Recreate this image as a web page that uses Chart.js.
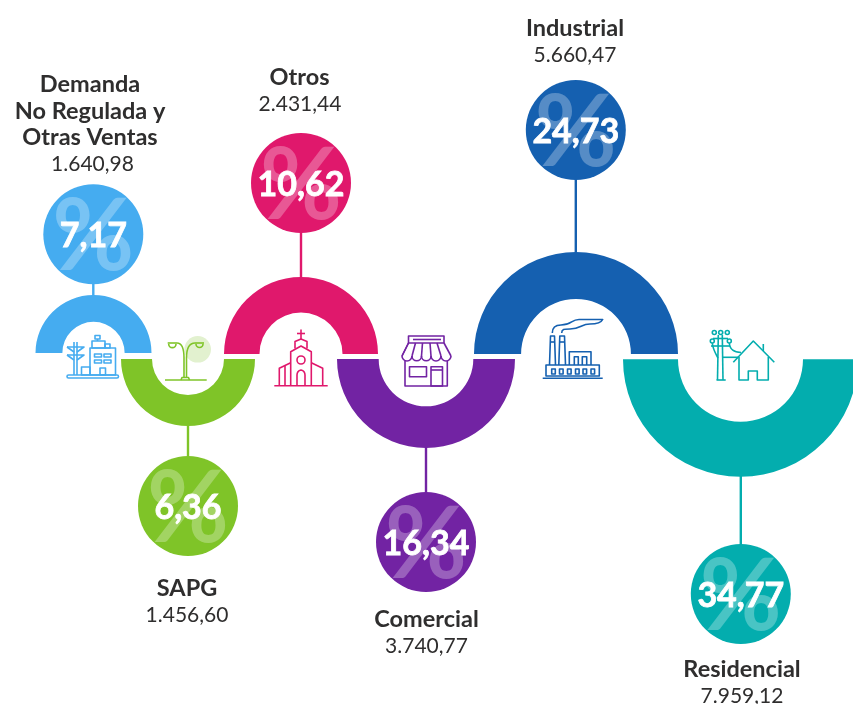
<!DOCTYPE html>
<html>
<head>
<meta charset="utf-8">
<title>Demanda</title>
<script src="https://cdn.jsdelivr.net/npm/chart.js@4/dist/chart.umd.min.js"></script>
<style>
html, body { margin: 0; padding: 0; background: #fff; width: 853px; height: 704px; overflow: hidden; }
#wrap { position: relative; width: 853px; height: 704px; overflow: hidden; }
canvas { position: absolute; display: block; }
</style>
</head>
<body>
<div id="wrap"><canvas id="main" width="853" height="704"></canvas></div>
<script>
// datos
const categories = [['Demanda', 'No Regulada y', 'Otras Ventas'], ['SAPG'], ['Otros'], ['Comercial'], ['Industrial'], ['Residencial']]
const values = [1640.98, 1456.60, 2431.44, 3740.77, 5660.47, 7959.12]
const percents = [7.17, 6.36, 10.62, 16.34, 24.73, 34.77]

// colores
const colors = ['#45acf0', '#7fc428', '#e0186c', '#7223a3', '#1560b0', '#03adae']

// posiciones de cada arco y circulo
const arcX = [93.3, 188, 301, 426, 575.8, 740.8]
const arcOuter = [58.3, 67, 77, 88.8, 101.8, 117.5]
const arcInner = [31.3, 36, 41.5, 47.2, 54.8, 62.5]
const arcUp = [true, false, true, false, true, false]
const circleY = [234.3, 506, 183, 542, 130, 594]
const nameX = [90, 187, 299.5, 426.5, 575, 742]
const valueX = [92.5, 187, 300, 426.5, 575, 742]
const labelY = [92, 596, 85, 627, 36, 677]

const topBase = 353.5
const bottomBase = 359

function fmt(n) {
    let s = n.toFixed(2).replace('.', ',')
    return s.replace(/\B(?=(\d{3})+(?!\d))/, '.')
}

function line(ctx, pts) {
    ctx.beginPath()
    pts.forEach((p, i) => i == 0 ? ctx.moveTo(p[0], p[1]) : ctx.lineTo(p[0], p[1]))
    ctx.stroke()
}

function rect(ctx, x, y, w, h) {
    ctx.beginPath()
    ctx.rect(x, y, w, h)
    ctx.stroke()
}

function circle(ctx, x, y, r) {
    ctx.beginPath()
    ctx.arc(x, y, r, 0, Math.PI * 2)
    ctx.stroke()
}

function iconDemanda(ctx) {
    ctx.beginPath()
    ctx.roundRect(67, 375, 51.5, 3, 1.5)
    ctx.stroke()
    line(ctx, [[74, 342], [74, 375]])
    line(ctx, [[77, 342], [77, 375]])
    line(ctx, [[67, 347], [84, 347], [77, 352]])
    line(ctx, [[74, 352], [67, 347]])
    line(ctx, [[67, 355], [84, 355], [77, 360]])
    line(ctx, [[74, 360], [67, 355]])
    rect(ctx, 90, 348, 25.5, 27)
    rect(ctx, 92, 341, 13, 7)
    rect(ctx, 105, 344, 5, 4)
    rect(ctx, 95, 335.5, 5, 3.5)
    line(ctx, [[97.5, 339], [97.5, 341]])
    rect(ctx, 94.5, 354, 7, 3)
    rect(ctx, 104, 354, 7, 3)
    rect(ctx, 94.5, 360, 7, 3)
    rect(ctx, 104, 360, 7, 3)
    rect(ctx, 100, 368, 5.5, 7)
    rect(ctx, 81.5, 367, 8.5, 8)
}

function iconSapg(ctx) {
    ctx.save()
    ctx.fillStyle = '#e2f1cf'
    ctx.beginPath()
    ctx.arc(197.7, 349.3, 13.3, 0, Math.PI * 2)
    ctx.fill()
    ctx.restore()
    line(ctx, [[165, 380], [206.7, 380]])
    line(ctx, [[184, 378], [184, 358]])
    line(ctx, [[186.5, 378], [186.5, 358]])
    line(ctx, [[181, 380], [182, 377.5], [188.5, 377.5], [189.5, 380]])
    ctx.beginPath()
    ctx.moveTo(184, 358)
    ctx.bezierCurveTo(184, 347, 181, 343, 177, 343)
    ctx.stroke()
    ctx.beginPath()
    ctx.moveTo(186.5, 358)
    ctx.bezierCurveTo(186.5, 347, 190, 343, 195, 343)
    ctx.stroke()
    ;[[167.7, 177], [195, 204]].forEach(p => {
        line(ctx, [[p[0], 343], [p[1], 343]])
        ctx.beginPath()
        ctx.arc((p[0] + p[1]) / 2, 344, (p[1] - p[0]) / 2 - 1, 0, Math.PI)
        ctx.stroke()
    })
}

function iconOtros(ctx) {
    line(ctx, [[274.3, 385.7], [327.7, 385.7]])
    line(ctx, [[301, 329.5], [301, 339]])
    line(ctx, [[297, 333.5], [305, 333.5]])
    line(ctx, [[295, 348.5], [295, 341.5], [301, 339], [307, 341.5], [307, 348.5]])
    line(ctx, [[290.7, 385.7], [290.7, 351.7], [301, 346], [311.3, 351.7], [311.3, 385.7]])
    line(ctx, [[279.3, 385.7], [279.3, 368.3], [290.7, 362.7]])
    line(ctx, [[322.7, 385.7], [322.7, 368.3], [311.3, 362.7]])
    line(ctx, [[285, 385.7], [285, 366]])
    circle(ctx, 301, 360, 4)
    ctx.beginPath()
    ctx.moveTo(297, 385.7)
    ctx.lineTo(297, 375)
    ctx.quadraticCurveTo(297, 371, 301, 370)
    ctx.quadraticCurveTo(305, 371, 305, 375)
    ctx.lineTo(305, 385.7)
    ctx.stroke()
}

function iconComercial(ctx) {
    rect(ctx, 408.5, 336, 35.5, 7)
    line(ctx, [[413, 339.5], [441, 339.5]])
    line(ctx, [[408.5, 343], [402, 356]])
    line(ctx, [[444, 343], [451, 356]])
    // toldo
    const edges = [402, 412, 421.5, 431, 441, 451]
    const tops = [408.5, 415.5, 422.5, 430, 437, 444]
    for (let i = 0; i < 5; i++) {
        ctx.beginPath()
        ctx.moveTo(edges[i], 356)
        ctx.arc((edges[i] + edges[i + 1]) / 2, 356, (edges[i + 1] - edges[i]) / 2, Math.PI, 0, true)
        ctx.stroke()
        line(ctx, [[tops[i + 0], 343], [edges[i], 356]])
    }
    line(ctx, [[405, 361], [405, 386], [447.3, 386], [447.3, 361]])
    rect(ctx, 409.5, 366.7, 17, 10)
    rect(ctx, 431, 366.7, 11.5, 19.3)
    line(ctx, [[431, 370], [442.5, 370]])
}

function iconIndustrial(ctx) {
    line(ctx, [[542.7, 378.3], [602.7, 378.3]])
    rect(ctx, 546, 365, 53.3, 11)
    ;[551.7, 559.5, 567.5, 575.5, 583, 591].forEach(x => rect(ctx, x, 369, 3.6, 5))
    line(ctx, [[549.5, 365], [550.5, 336], [554.5, 336], [555.5, 365]])
    line(ctx, [[558.8, 365], [559.8, 336], [564.5, 336], [565.5, 365]])
    line(ctx, [[550, 342], [555, 342]])
    line(ctx, [[559.5, 342], [565, 342]])
    line(ctx, [[569.3, 365], [569.3, 351.7], [591, 351.7], [591, 365]])
    line(ctx, [[574.3, 365], [574.3, 356.7], [578.3, 356.7], [578.3, 365]])
    line(ctx, [[582.3, 365], [582.3, 356.7], [586.7, 356.7], [586.7, 365]])
    ctx.beginPath()
    ctx.moveTo(552.3, 333)
    ctx.bezierCurveTo(552.3, 327, 556, 325, 561, 325)
    ctx.bezierCurveTo(572, 325, 571, 319.5, 579, 319.5)
    ctx.lineTo(602.7, 319.5)
    ctx.bezierCurveTo(601, 323, 597, 324, 590, 324)
    ctx.bezierCurveTo(581, 324, 581, 329, 570, 329)
    ctx.bezierCurveTo(564, 329, 561.7, 329, 561.7, 333)
    ctx.stroke()
}

function iconResidencial(ctx) {
    line(ctx, [[733.3, 362.3], [753.3, 341], [774.3, 362.3]])
    line(ctx, [[739, 357], [739, 380], [748.3, 380], [748.3, 371], [757.3, 371], [757.3, 380], [768.3, 380], [768.3, 357]])
    line(ctx, [[763.3, 344], [763.3, 351]])
    line(ctx, [[718.3, 335], [717.5, 380]])
    line(ctx, [[722.3, 335], [723, 380]])
    line(ctx, [[716.5, 380], [725.7, 380]])
    line(ctx, [[713, 338.5], [728, 338.5]])
    line(ctx, [[711, 346], [730, 346]])
    line(ctx, [[722, 357.3], [738, 357.3]])
    ;[[714.3, 332.5], [720.7, 332.5], [727.3, 332.5], [712.3, 341], [729.3, 341]].forEach(p => circle(ctx, p[0], p[1], 2))
    ctx.beginPath()
    ctx.moveTo(729.3, 343)
    ctx.bezierCurveTo(730, 350, 734, 352, 741, 352.5)
    ctx.stroke()
    ctx.beginPath()
    ctx.moveTo(712.3, 343)
    ctx.bezierCurveTo(713, 350, 716, 354, 718, 358)
    ctx.stroke()
}

const icons = [iconDemanda, iconSapg, iconOtros, iconComercial, iconIndustrial, iconResidencial]

const overlay = {
    id: 'overlay',
    afterDatasetsDraw(chart) {
        const ctx = chart.ctx
        const sx = chart.scales.x
        const sy = chart.scales.y
        ctx.save()
        ctx.textAlign = 'center'
        ctx.textBaseline = 'alphabetic'
        categories.forEach((lines, i) => {
            const cx = sx.getPixelForValue(arcX[i])
            const cy = sy.getPixelForValue(circleY[i])
            // % de fondo
            ctx.fillStyle = 'rgba(255,255,255,0.28)'
            ctx.font = 'bold 100px Lato'
            ctx.fillText('%', cx, cy + 36)
            // porcentaje
            ctx.fillStyle = '#fff'
            ctx.strokeStyle = '#fff'
            ctx.lineWidth = 0.8
            ctx.font = 'bold 34px Lato'
            ctx.fillText(percents[i].toFixed(2).replace('.', ','), cx, cy + 12.5)
            ctx.strokeText(percents[i].toFixed(2).replace('.', ','), cx, cy + 12.5)
            // nombre y valor
            ctx.fillStyle = '#2f2e2e'
            ctx.font = 'bold 23.5px Lato'
            lines.forEach((t, j) => ctx.fillText(t, nameX[i], labelY[i] + j * 26.7))
            ctx.font = '21px Lato'
            ctx.fillText(fmt(values[i]), valueX[i], labelY[i] + lines.length * 26.3)
            // icono
            ctx.save()
            ctx.strokeStyle = colors[i]
            ctx.lineWidth = 1.6
            ctx.lineJoin = 'round'
            icons[i](ctx)
            ctx.restore()
        })
        ctx.restore()
    }
}

const bubbleData = percents.map((p, i) => ({ x: arcX[i], y: circleY[i], r: 50 }))
const stems = percents.map((p, i) => ({
    type: 'line',
    data: [{ x: arcX[i], y: circleY[i] }, { x: arcX[i], y: arcUp[i] ? topBase - arcOuter[i] + 4 : bottomBase + arcOuter[i] - 4 }],
    borderColor: colors[i],
    borderWidth: 2.4,
    pointRadius: 0,
    order: 2
}))

new Chart(document.getElementById('main'), {
    data: {
        datasets: [{
            type: 'bubble',
            data: bubbleData,
            backgroundColor: colors,
            borderWidth: 0,
            order: 1
        }].concat(stems)
    },
    options: {
        responsive: false,
        animation: false,
        events: [],
        layout: { padding: 0, autoPadding: false },
        plugins: { legend: { display: false }, tooltip: { enabled: false } },
        scales: {
            x: { type: 'linear', min: 0, max: 853, display: false },
            y: { type: 'linear', min: 0, max: 704, reverse: true, display: false }
        }
    },
    plugins: [overlay]
})

// un medio anillo por categoria
categories.forEach((c, i) => {
    const r = arcOuter[i]
    const cv = document.createElement('canvas')
    cv.width = Math.round(r * 2)
    cv.height = Math.round(r)
    cv.style.left = (arcX[i] - r) + 'px'
    cv.style.top = (arcUp[i] ? topBase - r : bottomBase) + 'px'
    document.getElementById('wrap').appendChild(cv)
    new Chart(cv, {
        type: 'doughnut',
        data: {
            labels: [c.join(' ')],
            datasets: [{ data: [percents[i]], backgroundColor: [colors[i]], borderWidth: 0 }]
        },
        options: {
            responsive: false,
            animation: false,
            events: [],
            rotation: arcUp[i] ? -90 : 90,
            circumference: 180,
            cutout: (arcInner[i] / r * 100) + '%',
            layout: { padding: 0 },
            plugins: { legend: { display: false }, tooltip: { enabled: false } }
        }
    })
})
</script>
</body>
</html>
